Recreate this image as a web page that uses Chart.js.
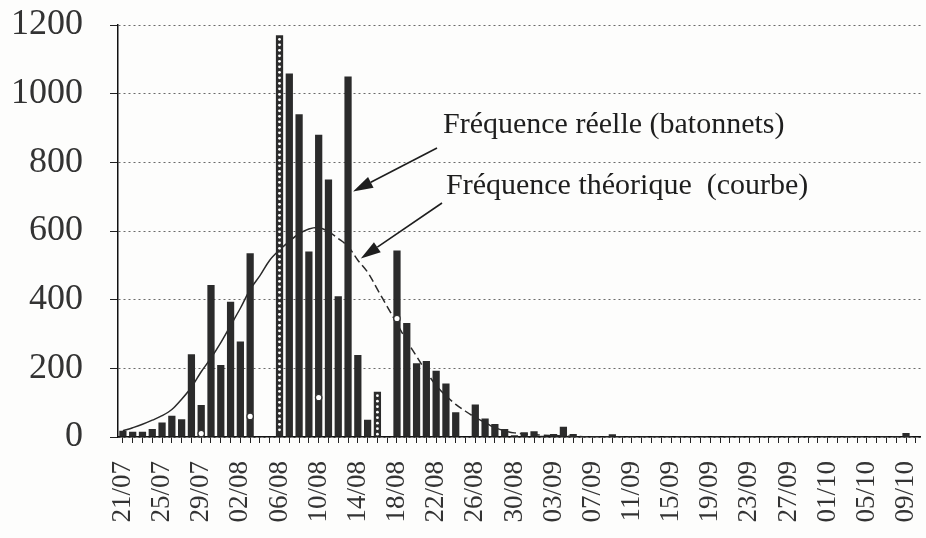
<!DOCTYPE html>
<html>
<head>
<meta charset="utf-8">
<script src="https://cdn.jsdelivr.net/npm/chart.js@4.4.1/dist/chart.umd.min.js"></script>
<style>
  html, body { margin: 0; padding: 0; background: #fdfdfc; }
  #wrap { width: 926px; height: 538px; }
</style>
</head>
<body>
<div id="wrap"><canvas id="frequences" width="926" height="538"></canvas></div>
<script>
// days from 21/07 to 10/10
const jours = [
  "21/07", "22/07", "23/07", "24/07", "25/07", "26/07", "27/07", "28/07", "29/07", "30/07", "31/07",
  "01/08", "02/08", "03/08", "04/08", "05/08", "06/08", "07/08", "08/08", "09/08", "10/08",
  "11/08", "12/08", "13/08", "14/08", "15/08", "16/08", "17/08", "18/08", "19/08", "20/08",
  "21/08", "22/08", "23/08", "24/08", "25/08", "26/08", "27/08", "28/08", "29/08", "30/08", "31/08",
  "01/09", "02/09", "03/09", "04/09", "05/09", "06/09", "07/09", "08/09", "09/09", "10/09",
  "11/09", "12/09", "13/09", "14/09", "15/09", "16/09", "17/09", "18/09", "19/09", "20/09",
  "21/09", "22/09", "23/09", "24/09", "25/09", "26/09", "27/09", "28/09", "29/09", "30/09",
  "01/10", "02/10", "03/10", "04/10", "05/10", "06/10", "07/10", "08/10", "09/10", "10/10"
];

// Fréquence réelle (batonnets)
const frequenceReelle = [
  18, 15, 15, 23, 42, 62, 52, 241, 93, 443,
  210, 394, 278, 535, 0, 0, 1170, 1059, 940, 540,
  880, 750, 410, 1050, 239, 50, 132, 0, 543, 332,
  215, 221, 193, 156, 72, 0, 95, 54, 38, 23,
  5, 14, 17, 4, 9, 30, 9, 2, 3, 0,
  8, 0, 0, 0, 0, 0, 0, 0, 0, 0,
  0, 0, 0, 0, 0, 0, 0, 0, 0, 0,
  0, 0, 0, 0, 0, 0, 0, 0, 0, 0,
  12, 0
];

// Fréquence théorique (courbe)
const frequenceTheorique = [
  18, 27, 37, 49, 62, 80, 110, 145, 190, 230,
  275, 325, 375, 430, 470, 515, 545, 570, 592, 606,
  610, 598, 578, 555, 515, 480, 430, 380, 330, 280,
  235, 190, 150, 120, 95, 75, 57, 42, 27, 18,
  12, 9, 7, 5, 4, 3, 2, 1, 0, 0,
  0, 0, 0, 0, 0, 0, 0, 0, 0, 0,
  0, 0, 0, 0, 0, 0, 0, 0, 0, 0,
  0, 0, 0, 0, 0, 0, 0, 0, 0, 0,
  0, 0
];

// small white circles seen on a few bars
const cerclesJours = ["29/07", "03/08", "10/08", "18/08"];
const cerclesValeurs = [10, 60, 115, 345];

// bars printed with a column of white dots
const batonnetsPointilles = ["06/08", "16/08"];

const yTicks = [0, 200, 400, 600, 800, 1000, 1200];

const serif = "'Liberation Serif', 'DejaVu Serif', serif";

const pointillesPlugin = {
  id: "pointilles",
  afterDatasetsDraw(chart) {
    const ctx = chart.ctx;
    const meta = chart.getDatasetMeta(1);
    ctx.save();
    ctx.fillStyle = "#ffffff";
    batonnetsPointilles.forEach((j) => {
      const bar = meta.data[jours.indexOf(j)];
      if (!bar) return;
      for (let yy = bar.y + 4; yy < bar.base - 2; yy += 5.5) {
        ctx.beginPath();
        ctx.arc(bar.x, yy, 1.4, 0, Math.PI * 2);
        ctx.fill();
      }
    });
    ctx.restore();
  },
};

function fleche(ctx, x1, y1, x2, y2) {
  const ang = Math.atan2(y2 - y1, x2 - x1);
  const long = 20, larg = 6;
  const bx = x2 - long * Math.cos(ang), by = y2 - long * Math.sin(ang);
  ctx.beginPath();
  ctx.moveTo(x1, y1);
  ctx.lineTo(bx, by);
  ctx.stroke();
  ctx.beginPath();
  ctx.moveTo(x2, y2);
  ctx.lineTo(bx + larg * Math.sin(ang), by - larg * Math.cos(ang));
  ctx.lineTo(bx - larg * Math.sin(ang), by + larg * Math.cos(ang));
  ctx.closePath();
  ctx.fill();
}

const annotationsPlugin = {
  id: "annotations",
  afterDraw(chart) {
    const ctx = chart.ctx;
    const xs = chart.scales.x, ys = chart.scales.y;
    ctx.save();
    ctx.fillStyle = "#1e1e1e";
    ctx.strokeStyle = "#1e1e1e";
    ctx.lineWidth = 1.6;
    ctx.font = "30px " + serif;
    ctx.textBaseline = "middle";
    ctx.fillText("Fréquence réelle (batonnets)", 443, 125);
    ctx.fillText("Fréquence théorique  (courbe)", 446, 186);
    fleche(ctx, 437, 148, xs.getPixelForValue(23) + 5, ys.getPixelForValue(715));
    fleche(ctx, 442, 203, xs.getPixelForValue(24) + 3, ys.getPixelForValue(520));
    ctx.restore();
  },
};

new Chart(document.getElementById("frequences"), {
  data: {
    labels: jours,
    datasets: [
      {
        type: "line",
        label: "Cercles",
        data: cerclesJours.map((j, i) => ({ x: j, y: cerclesValeurs[i] })),
        showLine: false,
        pointRadius: 3.2,
        pointBackgroundColor: "#ffffff",
        pointBorderColor: "#333333",
        pointBorderWidth: 1.3,
        order: 0,
      },
      {
        type: "bar",
        label: "Fréquence réelle (batonnets)",
        data: frequenceReelle,
        backgroundColor: "#2b2b2b",
        barPercentage: 0.74,
        categoryPercentage: 1,
        order: 1,
      },
      {
        type: "line",
        label: "Fréquence théorique (courbe)",
        data: frequenceTheorique,
        borderColor: "#2a2a2a",
        borderWidth: 1.5,
        pointRadius: 0,
        tension: 0.35,
        segment: {
          borderDash: (c) => (c.p0DataIndex >= 21 ? [8, 4] : undefined),
        },
        order: 2,
      },
    ],
  },
  options: {
    responsive: false,
    animation: false,
    devicePixelRatio: 1,
    layout: { padding: { top: 25, right: 4, bottom: 0, left: 0 } },
    plugins: {
      legend: { display: false },
      tooltip: { enabled: false },
    },
    scales: {
      x: {
        type: "category",
        grid: {
          drawOnChartArea: false,
          offset: false,
          tickLength: 6,
          color: "#222222",
        },
        border: { color: "#111111", width: 1.5 },
        ticks: {
          autoSkip: false,
          maxRotation: 90,
          minRotation: 90,
          padding: 18,
          color: "#333333",
          font: { family: serif, size: 27 },
          callback: function (v, i) {
            return i % 4 === 0 ? this.getLabelForValue(v) : "";
          },
        },
        afterFit: (s) => {
          s.height = 101;
          s.paddingLeft = 0;
          s.paddingRight = 0;
        },
      },
      y: {
        min: 0,
        max: 1200,
        afterBuildTicks: (s) => { s.ticks = yTicks.map((v) => ({ value: v })); },
        ticks: {
          padding: 27,
          color: "#333333",
          font: { family: serif, size: 36 },
          callback: (v) => String(v),
        },
        grid: {
          color: "#6a6a6a",
          lineWidth: 1,
          tickLength: 8,
          tickColor: "#222222",
        },
        border: { color: "#111111", width: 1.5, dash: [2, 3] },
        afterFit: (s) => {
          s.width = 118;
          s.paddingTop = 0;
          s.paddingBottom = 0;
        },
      },
    },
  },
  plugins: [pointillesPlugin, annotationsPlugin],
});
</script>
</body>
</html>
